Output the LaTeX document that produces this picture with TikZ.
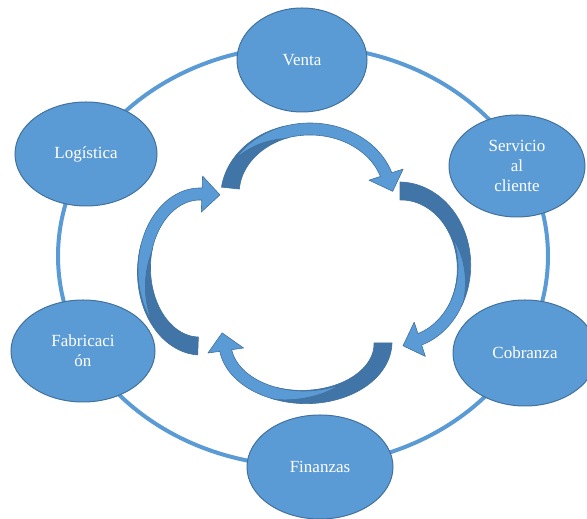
\documentclass[tikz,border=0pt]{standalone}
\usepackage{fontspec}
\setmainfont{Liberation Serif}
\usetikzlibrary{shapes.geometric}
\definecolor{nodefill}{HTML}{5B9BD5}
\definecolor{nodeline}{HTML}{41719C}
\definecolor{darkface}{HTML}{4275A7}
\definecolor{ringcol}{HTML}{5B9BD5}
\tikzset{
  proc/.style={ellipse, fill=nodefill, draw=nodeline, line width=1pt, inner sep=0pt,
    text=white, align=center, font=\fontsize{17}{20}\selectfont},
  ringline/.style={draw=ringcol, line width=4pt},
  darkpart/.style={fill=darkface, draw=nodeline, line width=0.6pt, line join=round},
  lightpart/.style={fill=nodefill, draw=nodeline, line width=0.6pt, line join=round}
}
% #1 cx, #2 cy, #3 rx, #4 ry, #5 base angle, #6 angle where light is full,
% #7 angle where light starts, #8 head angle, #9 side of light (1 outer, -1 inner)
\newcommand{\carrow}[9]{%
\begin{scope}[shift={(#1,#2)}]
  \pgfmathsetmacro\caDend{#6-3}
  \path[darkpart]
    plot[domain=#5:\caDend, samples=60, variable=\t]
      ({(#3+9-3*(#5-(\t))/(#5-(\caDend)))*cos(\t)}, {(#4+9-3*(#5-(\t))/(#5-(\caDend)))*sin(\t)})
    -- plot[domain=\caDend:#5, samples=60, variable=\t]
      ({(#3-9+3*(#5-(\t))/(#5-(\caDend)))*cos(\t)}, {(#4-9+3*(#5-(\t))/(#5-(\caDend)))*sin(\t)})
    -- cycle;
  \pgfmathsetmacro\caNorm{sqrt((#3*sin(#8))^2+(#4*cos(#8))^2)}
  \pgfmathsetmacro\caTipX{#3*cos(#8)+18*#3*sin(#8)/\caNorm}
  \pgfmathsetmacro\caTipY{#4*sin(#8)-18*#4*cos(#8)/\caNorm}
  \path[lightpart]
    plot[domain=#7:#8, samples=70, variable=\t]
      ({(#3+6*(#9))*cos(\t)}, {(#4+6*(#9))*sin(\t)})
    -- ({(#3+18*(#9))*cos(#8)}, {(#4+18*(#9))*sin(#8)})
    -- (\caTipX,\caTipY)
    -- ({(#3-18*(#9))*cos(#8)}, {(#4-18*(#9))*sin(#8)})
    -- plot[domain=#8:#7, samples=70, variable=\t]
      ({(#3+(#9)*max(-6,6-12*(#7-(\t))/(#7-(#6))))*cos(\t)}, {(#4+(#9)*max(-6,6-12*(#7-(\t))/(#7-(#6))))*sin(\t)})
    -- cycle;
\end{scope}}
\begin{document}
\begin{tikzpicture}[x=1pt,y=1pt]
\useasboundingbox (0,0) rectangle (587,519);
% ring
\draw[ringline] (303,263) ellipse [x radius=245, y radius=210];
% cycle arrows
\carrow{310}{324}{80}{66}{174}{110}{150}{18}{1}
\carrow{400}{252}{64}{76}{90}{-25}{25}{-72}{-1}
\carrow{304}{176}{79}{54}{0}{-110}{-60}{-172}{-1}
\carrow{200}{249}{56}{76}{268}{165}{220}{88}{1}
% process nodes
\node[proc, minimum width=130pt, minimum height=104pt] (venta) at (302,459) {Venta};
\node[proc, minimum width=142pt, minimum height=104pt] (logistica) at (86,365) {Logística};
\node[proc, minimum width=136pt, minimum height=102pt] (servicio) at (517,353) {Servicio\\al\\cliente};
\node[proc, minimum width=144pt, minimum height=106pt] (cobranza) at (525,166) {Cobranza};
\node[proc, minimum width=146pt, minimum height=104pt] (finanzas) at (320,52) {Finanzas};
\node[proc, minimum width=144pt, minimum height=102pt] (fabricacion) at (83,168) {Fabricaci\\ón};
\end{tikzpicture}
\end{document}
